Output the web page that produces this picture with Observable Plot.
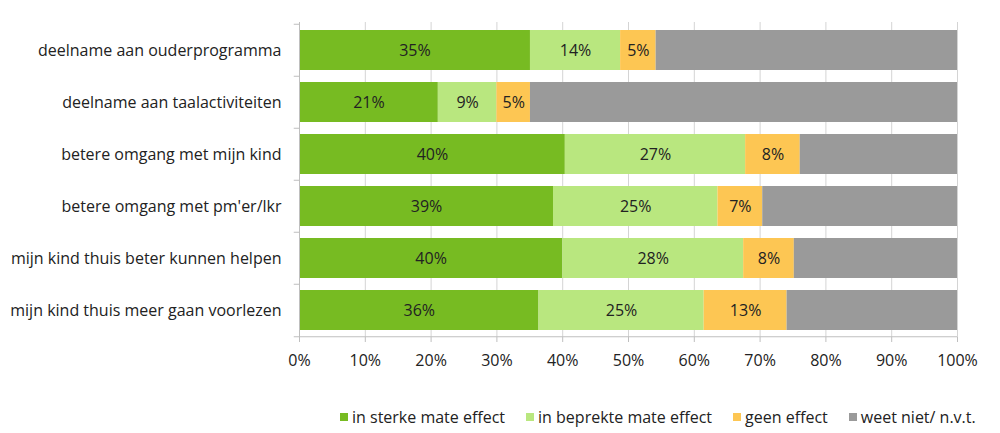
<!DOCTYPE html>
<html>
<head>
<meta charset="utf-8">
<script src="https://cdn.jsdelivr.net/npm/d3@7"></script>
<script src="https://cdn.jsdelivr.net/npm/@observablehq/plot@0.6"></script>
<style>
  body { margin: 0; background: #fff; font-family: "Open Sans", sans-serif; }
  #chart { width: 1000px; height: 433px; position: relative; }
  #legend { position: absolute; left: 340px; top: 406px; display: flex; font-size: 16px; color: #222; white-space: nowrap; }
  .item { display: flex; align-items: center; margin-right: 21px; }
  .sw { width: 8px; height: 8px; margin-right: 4px; }
</style>
</head>
<body>
<div id="chart"></div>
<script>
const categories = [
  "deelname aan ouderprogramma",
  "deelname aan taalactiviteiten",
  "betere omgang met mijn kind",
  "betere omgang met pm'er/lkr",
  "mijn kind thuis beter kunnen helpen",
  "mijn kind thuis meer gaan voorlezen"
];
const series = ["in sterke mate effect", "in beprekte mate effect", "geen effect", "weet niet/ n.v.t."];
const colors = ["#77bb22", "#b9e77f", "#fdc653", "#9a9a9a"];
const strong  = [35.1, 21.1, 40.4, 38.6, 40.0, 36.4];
const limited = [13.7, 8.9, 27.4, 25.0, 27.5, 25.1];
const none    = [5.4, 5.1, 8.3, 6.8, 7.7, 12.6];
const unknown = [45.8, 64.9, 23.9, 29.6, 24.8, 25.9];
const xTicks = [0, 10, 20, 30, 40, 50, 60, 70, 80, 90, 100];

const cols = [strong, limited, none, unknown];
const data = [];
categories.forEach((c, i) => series.forEach((s, j) => data.push({cat: c, series: s, value: cols[j][i]})));

const height = 395, marginTop = 22, marginBottom = 58;
const step = (height - marginTop - marginBottom) / categories.length;

const plot = Plot.plot({
  width: 1000,
  height,
  marginLeft: 299,
  marginRight: 43,
  marginTop,
  marginBottom,
  style: {fontFamily: "'Open Sans', sans-serif", fontSize: "16px", color: "#222"},
  x: {domain: [0, 100], label: null},
  y: {domain: categories, paddingInner: 0.24, paddingOuter: 0.12, label: null},
  color: {domain: series, range: colors},
  marks: [
    Plot.ruleX(xTicks.slice(1), {stroke: "#d4d4d4", strokeWidth: 1}),
    Plot.barX(data, Plot.stackX({x: "value", y: "cat", fill: "series", order: series})),
    Plot.text(data, Plot.stackX({x: "value", y: "cat", z: "series", order: series,
      text: d => d.series === series[3] ? "" : Math.round(d.value) + "%",
      fill: "#222", fontSize: 16})),
    Plot.ruleX([0], {stroke: "#bfbfbf"}),
    Plot.ruleY(categories, {y: d => d, dy: -step / 2, x1: -0.8, x2: 0, stroke: "#bfbfbf", clip: false}),
    Plot.ruleY([categories[categories.length - 1]], {y: d => d, dy: step / 2, x1: -0.8, x2: 100, stroke: "#bfbfbf", clip: false}),
    Plot.axisY({tickSize: 0, tickPadding: 18, label: null, fontSize: 16}),
    Plot.axisX({ticks: xTicks, tickFormat: d => d + "%", tickSize: 5, tickPadding: 12, stroke: "#bfbfbf", label: null, fontSize: 16})
  ]
});
const chart = document.getElementById("chart");
chart.appendChild(plot);

const legend = document.createElement("div");
legend.id = "legend";
series.forEach((s, j) => {
  const it = document.createElement("div");
  it.className = "item";
  const sw = document.createElement("span");
  sw.className = "sw";
  sw.style.background = colors[j];
  const t = document.createElement("span");
  t.textContent = s;
  it.appendChild(sw);
  it.appendChild(t);
  legend.appendChild(it);
});
chart.appendChild(legend);
</script>
</body>
</html>
